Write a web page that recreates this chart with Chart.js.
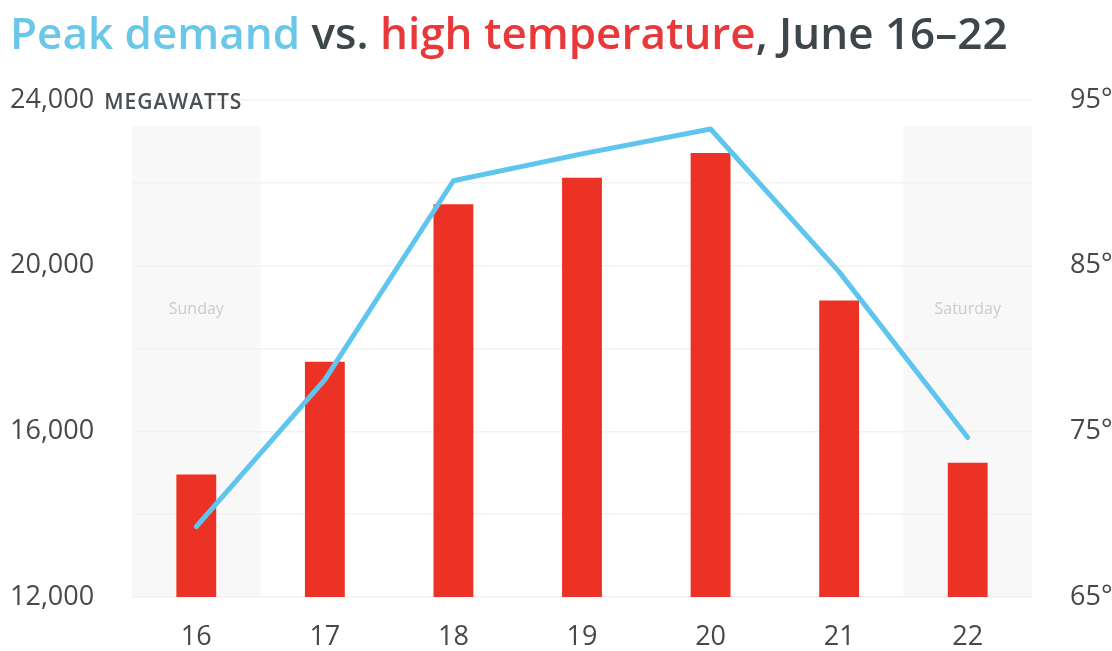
<!DOCTYPE html>
<html>
<head>
<meta charset="utf-8">
<title>Peak demand vs. high temperature</title>
<script src="https://cdn.jsdelivr.net/npm/chart.js@4/dist/chart.umd.min.js"></script>
<style>
  html, body { margin: 0; padding: 0; background: #fff; }
  #wrap { position: relative; width: 1112px; height: 651px; }
  #title {
    position: absolute; left: 10px; top: 2px;
    font: 600 44px 'Open Sans', sans-serif; color: #3d464b;
    white-space: nowrap;
  }
  #title .demand { color: #6ac7ea; }
  #title .temp { color: #e8383a; }
  canvas { position: absolute; left: 0; top: 0; }
</style>
</head>
<body>
<div id="wrap">
  <canvas id="chart" width="1112" height="651"></canvas>
  <div id="title"><span class="demand">Peak demand</span> vs. <span class="temp">high temperature</span>, June 16–22</div>
</div>
<script>
const days = ['16', '17', '18', '19', '20', '21', '22'];
const weekendLabels = ['Sunday', '', '', '', '', '', 'Saturday'];
// peak demand, megawatts (left axis)
const peakDemand = [13700, 17250, 22050, 22700, 23300, 19850, 15850];
// high temperature, degrees F (right axis)
const highTemp = [72.4, 79.2, 88.7, 90.3, 91.8, 82.9, 73.1];
const demandTicks = [12000, 16000, 20000, 24000];
const tempTicks = [65, 75, 85, 95];

const tickFont = { family: 'Open Sans', size: 27, weight: '500' };

// grey bands behind the weekend days
const weekendBands = {
  id: 'weekendBands',
  beforeDraw(chart) {
    const { ctx, chartArea, scales } = chart;
    const w = chartArea.width / days.length;
    ctx.save();
    weekendLabels.forEach((lbl, i) => {
      if (!lbl) return;
      const cx = scales.x.getPixelForValue(i);
      ctx.fillStyle = '#f8f8f9';
      ctx.fillRect(cx - w / 2, chartArea.top + 26, w, chartArea.bottom - chartArea.top - 26);
      ctx.fillStyle = '#cbcbcc';
      ctx.font = '500 16px "Open Sans"';
      ctx.textAlign = 'center';
      ctx.textBaseline = 'middle';
      ctx.fillText(lbl, cx, scales.y.getPixelForValue(18950));
    });
    ctx.restore();
  }
};

// unit next to the top left tick
const unitLabel = {
  id: 'unitLabel',
  afterDraw(chart) {
    const { ctx, scales } = chart;
    const y = scales.y.getPixelForValue(24000);
    ctx.save();
    ctx.font = '500 27px "Open Sans"';
    const w = ctx.measureText('24,000').width;
    ctx.font = '600 21px "Open Sans"';
    ctx.letterSpacing = '1px';
    ctx.fillStyle = '#4a4f53';
    ctx.textBaseline = 'middle';
    ctx.fillText('MEGAWATTS', scales.y.left + w + 10, y + 3);
    ctx.restore();
  }
};

new Chart(document.getElementById('chart'), {
  data: {
    labels: days,
    datasets: [{
      type: 'line',
      label: 'Peak demand',
      data: peakDemand,
      yAxisID: 'y',
      borderColor: '#5ec6ee',
      borderWidth: 5,
      borderCapStyle: 'round',
      borderJoinStyle: 'round',
      pointRadius: 0,
      tension: 0,
      order: 0
    }, {
      type: 'bar',
      label: 'High temperature',
      data: highTemp,
      yAxisID: 'y1',
      backgroundColor: '#ec3224',
      barPercentage: 0.62,
      categoryPercentage: 0.5,
      order: 1
    }]
  },
  options: {
    responsive: false,
    animation: false,
    layout: { padding: { left: 10, right: 0, top: 100, bottom: 0 } },
    plugins: {
      legend: { display: false },
      tooltip: { enabled: false }
    },
    scales: {
      x: {
        grid: { display: false },
        border: { display: false },
        ticks: { color: '#45494c', font: tickFont, padding: 16 },
        afterFit(scale) { scale.height = 54; }
      },
      y: {
        position: 'left',
        min: 12000,
        max: 24000,
        border: { display: false },
        grid: { color: '#f2f2f3', lineWidth: 1.5, drawTicks: false },
        ticks: {
          stepSize: 2000,
          color: '#45494c',
          font: tickFont,
          padding: 0,
          crossAlign: 'far',
          callback: v => demandTicks.includes(v) ? v.toLocaleString('en-US') : ''
        },
        afterFit(scale) { scale.width = 122; }
      },
      y1: {
        position: 'right',
        min: 65,
        max: 95,
        border: { display: false },
        grid: { display: false },
        ticks: {
          stepSize: 10,
          color: '#45494c',
          font: tickFont,
          padding: 30,
          callback: v => tempTicks.includes(v) ? v + '°' : ''
        },
        afterFit(scale) { scale.width = 80; }
      }
    }
  },
  plugins: [weekendBands, unitLabel]
});
</script>
</body>
</html>
